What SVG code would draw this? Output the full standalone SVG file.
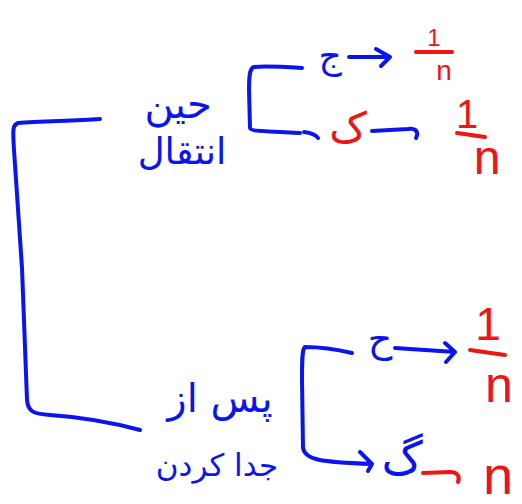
<svg xmlns="http://www.w3.org/2000/svg" width="522" height="504" viewBox="0 0 522 504">
<style>
.b{fill:none;stroke:#0a14f0;stroke-width:4;stroke-linecap:round;stroke-linejoin:round}
.r{fill:none;stroke:#f01414;stroke-width:4;stroke-linecap:round;stroke-linejoin:round}
.tb{fill:#0a14f0;font-family:"DejaVu Sans",sans-serif;text-anchor:middle}
.tr{fill:#f01414;font-family:"Liberation Sans",sans-serif;text-anchor:middle}
.ar{fill:#f01414;font-family:"DejaVu Sans",sans-serif;text-anchor:middle}
</style>
<rect width="522" height="504" fill="#ffffff"/>
<g id="connectors">
<path class="b" d="M100,119 C70,121 40,121 18,123 C12,125 13,132 14,150 L22,268 L27,400 C28,412 34,414 50,415 C80,417 110,422 140,430"/>
<path class="b" d="M302,68 C285,67 265,66 254,67 C250,68 249,75 249,90 L250,128 C250,131 260,131 300,133"/>
<path class="b" d="M304,132 C312,133 316,135 318,138"/>
<path class="b" d="M352,353 C335,349 318,347 305,347 C302,349 302,360 302,380 L303,448 C305,460 320,462 372,464 L360,452 M372,464 L368,471"/>
<path class="b" d="M349,57 L390,57 L376,49 M390,57 L381,66"/>
<path class="b" d="M372,131 L408,129 C416,128 419,132 416,138"/>
<path class="b" d="M395,348 L455,352 L445,343 M455,352 L446,362"/>
<path class="r" d="M423,473 L450,472 C458,472 460,477 458,482"/>
</g>
<g id="n1">
<text class="tb" x="178" y="118" font-size="40">حین</text>
<text class="tb" x="182" y="164" font-size="37">انتقال</text>
</g>
<g id="n2">
<text class="tb" x="220" y="412" font-size="40">پس از</text>
<text class="tb" x="217" y="476" font-size="31">جدا کردن</text>
</g>
<g id="n3">
<text class="tb" x="330" y="68" font-size="36">ج</text>
</g>
<g id="n4">
<text class="ar" x="348" y="142" font-size="42">ک</text>
</g>
<g id="n5">
<text class="tb" x="380" y="352" font-size="38">ح</text>
</g>
<g id="n6">
<text class="tb" x="402" y="474" font-size="46">گ</text>
</g>
<g id="f1">
<text class="tr" x="434" y="46" font-size="24">1</text>
<path class="r" d="M416,52 L452,52"/>
<text class="tr" x="444" y="80" font-size="28">n</text>
</g>
<g id="f2">
<text class="tr" x="467" y="128" font-size="40">1</text>
<path class="r" d="M457,133 L485,137"/>
<text class="tr" x="487" y="174" font-size="48">n</text>
</g>
<g id="f3">
<text class="tr" x="488" y="340" font-size="46">1</text>
<path class="r" d="M470,350 L505,355"/>
<text class="tr" x="499" y="402" font-size="50">n</text>
</g>
<g id="f4">
<text class="tr" x="498" y="494" font-size="54">n</text>
</g>
</svg>
